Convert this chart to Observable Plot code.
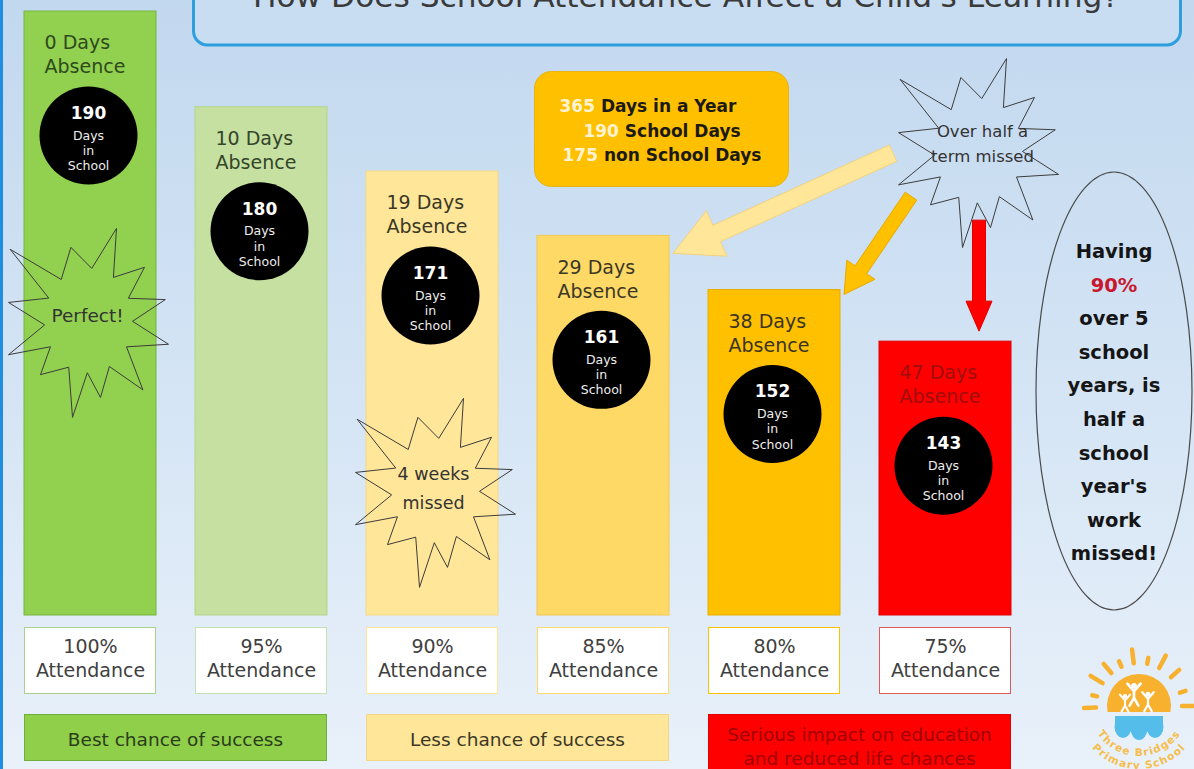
<!DOCTYPE html>
<html><head><meta charset="utf-8">
<script src="https://cdn.jsdelivr.net/npm/d3@7"></script>
<script src="https://cdn.jsdelivr.net/npm/@observablehq/plot@0.6"></script>
<style>
html,body{margin:0;padding:0;overflow:hidden;background:#e6eef8;}
#wrap{position:relative;width:1194px;height:769px;overflow:hidden;background:linear-gradient(to bottom,#c2d8ef 0%,#d2e3f4 45%,#e9f1fa 100%);font-family:"DejaVu Sans",sans-serif;}
#decor,#chart{position:absolute;left:0;top:0;}
#chart svg{background:transparent !important;overflow:visible;}
</style></head>
<body><div id="wrap"><svg id="decor" width="1194" height="769"></svg><div id="chart"></div></div>
<script>
// ---------- data ----------
const titleText = "How Does School Attendance Affect a Child's Learning?";
const attendance = ["100%", "95%", "90%", "85%", "80%", "75%"];
const absenceDays = [0, 10, 19, 29, 38, 47];
const schoolDays = [190, 180, 171, 161, 152, 143];
const daysInSchool = "Days\nin\nSchool";
const yearFacts = [365, 190, 175];
const yearFactLabels = ["Days in a Year", "School Days", "non School Days"];
const outcomeLabels = ["Best chance of success", "Less chance of success", "Serious impact on education\nand reduced life chances"];
const outcomeSpans = [["100%", "95%"], ["90%", "85%"], ["80%", "75%"]];
const burstTexts = ["Perfect!", "4 weeks\nmissed", "Over half a\nterm missed"];
const burstBars = ["100%", "90%", "75%"];
const arrowTargets = ["85%", "80%", "75%"];
const ovalLines = ["Having", "90%", "over 5", "school", "years, is", "half a", "school", "year's", "work", "missed!"];
const logoWords = ["Three Bridges", "Primary School"];
const yMax = 100;

// ---------- styles ----------
const barFill = ["#92d050", "#c5e0a0", "#ffe699", "#ffd966", "#ffc000", "#ff0000"];
const barStroke = ["#74b53c", "#b3d58a", "#f4d88a", "#f0c850", "#e8ad00", "#e00000"];
const barInk = ["#2e4a1c", "#34452a", "#3b3826", "#3b3826", "#3b3420", "#a10d0d"];
const boxStroke = ["#a9d18e", "#c5e0b4", "#ffe699", "#ffd966", "#ffc000", "#e05a5a"];
const outcomeFill = ["#8fcf4a", "#ffe699", "#ff0000"];
const outcomeStroke = ["#6fae3a", "#f3d683", "#e00000"];
const outcomeInk = ["#2b3d1b", "#3b3826", "#a00000"];

const rows = attendance.map((a, i) => ({attendance: a, absence: absenceDays[i], school: schoolDays[i], i}));
const absOf = a => absenceDays[attendance.indexOf(a)];
const burstRows = burstBars.map((b, k) => ({attendance: b, absence: absOf(b), note: burstTexts[k], k}));

// irregular 12-point starburst symbol
const tips = [[-0.98,-0.75],[-0.22,-0.77],[0.35,-0.97],[0.70,-0.56],[0.96,-0.22],[1.0,0.25],[0.68,0.73],[0.15,0.81],[-0.2,1.02],[-0.6,0.57],[-1.0,0.36],[-1.0,-0.19]];
const burstSymbol = {
  draw(ctx, size) {
    const r = Math.sqrt(size / Math.PI), sx = r * 80 / 95, sy = r;
    tips.forEach((t, k) => {
      const n = tips[(k + 1) % tips.length];
      const mx = (t[0] + n[0]) / 2, my = (t[1] + n[1]) / 2, m = Math.hypot(mx, my) || 1;
      const ir = 0.55;
      if (k === 0) ctx.moveTo(t[0] * sx, t[1] * sy); else ctx.lineTo(t[0] * sx, t[1] * sy);
      ctx.lineTo(mx / m * ir * sx, my / m * ir * sy);
    });
    ctx.closePath();
  }
};
const burstLayout = [
  {dx: -2, dy: 309, tdx: -3, tdy: 303, fs: 18.5, lh: 1.3},
  {dx: 3, dy: 319, tdx: 1, tdy: 313.5, fs: 17.5, lh: 29 / 17.5},
  {dx: 33, dy: -191, tdx: 37, tdy: -200.5, fs: 16.5, lh: 25 / 16.5}
];

function blockArrow(x0, y0, x1, y1, sw, hw, hl) {
  const L = Math.hypot(x1 - x0, y1 - y0), ux = (x1 - x0) / L, uy = (y1 - y0) / L, nx = -uy, ny = ux;
  const bx = x1 - ux * hl, by = y1 - uy * hl;
  const p = [[x0 + nx * sw / 2, y0 + ny * sw / 2], [bx + nx * sw / 2, by + ny * sw / 2], [bx + nx * hw / 2, by + ny * hw / 2], [x1, y1],
    [bx - nx * hw / 2, by - ny * hw / 2], [bx - nx * sw / 2, by - ny * sw / 2], [x0 - nx * sw / 2, y0 - ny * sw / 2]];
  return "M" + p.map(q => q.join(",")).join("L") + "Z";
}

function attendanceBoxes(index, scales) {
  const x = scales.x, bw = x.bandwidth(), y0 = scales.y(yMax);
  const g = d3.create("svg:g");
  g.selectAll("rect").data(rows).join("rect")
    .attr("x", d => x(d.attendance) + 0.5).attr("y", y0 + 12.5)
    .attr("width", bw - 1).attr("height", 66)
    .attr("fill", "#ffffff").attr("stroke", d => boxStroke[d.i]);
  return g.node();
}
function outcomeBoxes(index, scales) {
  const x = scales.x, bw = x.bandwidth(), y0 = scales.y(yMax);
  const g = d3.create("svg:g");
  outcomeLabels.forEach((label, k) => {
    const [a, b] = outcomeSpans[k];
    const x0 = x(a), x1 = x(b) + bw;
    const lines = label.split("\n");
    g.append("rect").attr("x", x0 + 0.5).attr("y", y0 + 99.5).attr("width", x1 - x0 - 1)
      .attr("height", lines.length > 1 ? 70 : 46).attr("fill", outcomeFill[k]).attr("stroke", outcomeStroke[k]);
    const t = g.append("text").attr("text-anchor", "middle").attr("font-size", 18.5).attr("fill", outcomeInk[k]);
    lines.forEach((ln, j) => t.append("tspan").attr("x", (x0 + x1) / 2)
      .attr("y", y0 + (lines.length > 1 ? 125.5 + j * 24 : 130.5)).text(ln));
  });
  return g.node();
}
function arrows(index, scales) {
  const x = scales.x, bw = x.bandwidth(), y = scales.y;
  const s = burstLayout[2];
  const cx = x(burstBars[2]) + bw / 2 + s.dx, cy = y(absOf(burstBars[2])) + s.dy;
  const g = d3.create("svg:g");
  const a0 = arrowTargets[0], a1 = arrowTargets[1], a2 = arrowTargets[2];
  const specs = [
    {x0: cx - 85, y0: cy + 3, x1: x(a0) + bw + 4, y1: y(absOf(a0)) + 18, sw: 18, hw: 50, hl: 48, fill: "#ffe699", stroke: "#f1d27e"},
    {x0: cx - 67, y0: cy + 46, x1: x(a1) + bw + 4, y1: y(absOf(a1)) + 5, sw: 14, hw: 34, hl: 30, fill: "#ffc000", stroke: "#e7aa00"},
    {x0: cx + 1, y0: cy + 70, x1: cx + 1, y1: y(absOf(a2)) - 10, sw: 13, hw: 26, hl: 30, fill: "#ff0000", stroke: "#e00000"}
  ];
  specs.forEach(sp => g.append("path").attr("d", blockArrow(sp.x0, sp.y0, sp.x1, sp.y1, sp.sw, sp.hw, sp.hl))
    .attr("fill", sp.fill).attr("stroke", sp.stroke).attr("stroke-width", 1));
  return g.node();
}

const burstMarks = burstLayout.flatMap((s, k) => [
  Plot.dot(burstRows.filter(d => d.k === k), {x: "attendance", y: "absence", r: 95, symbol: burstSymbol, fill: "none", stroke: "#3c3c3c", strokeWidth: 1, dx: s.dx, dy: s.dy}),
  Plot.text(burstRows.filter(d => d.k === k), {x: "attendance", y: "absence", text: "note", dx: s.tdx, dy: s.tdy, fontSize: s.fs, lineHeight: s.lh, fill: "#333333"})
]);

const plot = Plot.plot({
  width: 1194, height: 769,
  marginLeft: 24, marginRight: 183, marginTop: 11, marginBottom: 154,
  x: {type: "band", domain: attendance, paddingInner: 0.2285, paddingOuter: 0, axis: null},
  y: {type: "pow", exponent: 0.8, domain: [0, yMax], reverse: true, axis: null},
  color: {type: "identity"},
  style: {fontFamily: '"DejaVu Sans", sans-serif', background: "transparent", overflow: "visible"},
  marks: [
    Plot.barY(rows, {x: "attendance", y1: "absence", y2: yMax, fill: d => barFill[d.i], stroke: d => barStroke[d.i], strokeWidth: 1}),
    attendanceBoxes,
    Plot.text(rows, {x: "attendance", y: yMax, text: d => `${d.attendance}\nAttendance`, dy: 42, fontSize: 19, lineHeight: 24 / 19, fill: "#404040"}),
    outcomeBoxes,
    Plot.dot(rows, {x: "attendance", y: "absence", r: 49, fill: "#000000", dx: -2, dy: 124}),
    Plot.text(rows, {x: "attendance", y: "absence", text: d => String(d.school), dx: -2, dy: 102, fontSize: 17, fontWeight: "bold", fill: "#ffffff"}),
    Plot.text(rows, {x: "attendance", y: "absence", text: () => daysInSchool, dx: -2, dy: 138.5, fontSize: 12.5, lineHeight: 1.22, fill: "#eeeeee"}),
    Plot.text(rows, {x: "attendance", y: "absence", text: d => `${d.absence} Days\nAbsence`, dx: -46, dy: 42, textAnchor: "start", fontSize: 19, lineHeight: 24 / 19, fill: d => barInk[d.i]}),
    ...burstMarks,
    arrows
  ]
});
document.getElementById("chart").appendChild(plot);

// ---------- decorations ----------
const dec = d3.select("#decor");
dec.append("rect").attr("x", 0).attr("y", 0).attr("width", 3).attr("height", 769).attr("fill", "#1f8de0");
dec.append("rect").attr("x", 193.5).attr("y", -30).attr("width", 987).attr("height", 75).attr("rx", 14)
  .attr("fill", "#c8ddf2").attr("stroke", "#2d9fdc").attr("stroke-width", 3);
dec.append("text").attr("x", 686).attr("y", 7).attr("text-anchor", "middle").attr("font-size", 31)
  .attr("fill", "#3a3a3a").attr("textLength", 866).attr("lengthAdjust", "spacingAndGlyphs").text(titleText);

// year facts box
dec.append("rect").attr("x", 534.5).attr("y", 71.5).attr("width", 254).attr("height", 115).attr("rx", 17)
  .attr("fill", "#ffc000").attr("stroke", "#e9b20e");
const factX = [648, 662, 662], factY = [112, 137, 161];
yearFacts.forEach((v, k) => {
  const t = dec.append("text").attr("x", factX[k]).attr("y", factY[k]).attr("text-anchor", "middle")
    .attr("font-size", 17).attr("font-weight", "bold");
  t.append("tspan").attr("fill", "#fff3d2").text(String(v));
  t.append("tspan").attr("fill", "#1c1a14").text(" " + yearFactLabels[k]);
});

// oval
dec.append("ellipse").attr("cx", 1114).attr("cy", 391).attr("rx", 78).attr("ry", 219)
  .attr("fill", "none").attr("stroke", "#4a4a4a").attr("stroke-width", 1.2);
ovalLines.forEach((ln, k) => dec.append("text").attr("x", 1114).attr("y", 258 + k * 33.6)
  .attr("text-anchor", "middle").attr("font-size", 19.5).attr("font-weight", "bold")
  .attr("fill", k === 1 ? "#c8182f" : "#151515").text(ln));

// logo
const lc = {x: 1139, y: 706};
const orange = "#f7b12f";
const chordY = lc.y + 6, half = Math.sqrt(32 * 32 - 36);
dec.append("path").attr("d", `M${lc.x - half},${chordY} A32,32 0 1 1 ${lc.x + half},${chordY} Z`).attr("fill", orange);
const rayA = [182, 167, 148, 130, 114, 97, 79, 62, 42, 18, 0];
const rayL = [12, 5, 14, 12, 6, 14, 6, 14, 11, 6, 12];
rayA.forEach((a, k) => {
  const r = a * Math.PI / 180, r0 = 43, r1 = 43 + rayL[k];
  dec.append("line").attr("x1", lc.x + r0 * Math.cos(r)).attr("y1", lc.y - r0 * Math.sin(r))
    .attr("x2", lc.x + r1 * Math.cos(r)).attr("y2", lc.y - r1 * Math.sin(r))
    .attr("stroke", orange).attr("stroke-width", 4.5).attr("stroke-linecap", "round");
});
[[-14, -8, 0.85], [-5, -18, 1.1], [9, -10, 0.95]].forEach(([dx, dy, s]) => {
  const cx = lc.x + dx, cy = lc.y + dy;
  dec.append("circle").attr("cx", cx).attr("cy", cy - 2 * s).attr("r", 2.6 * s).attr("fill", "#fff");
  dec.append("path").attr("d", `M${cx - 6 * s},${cy - 4 * s} L${cx},${cy + 3 * s} L${cx + 6 * s},${cy - 4 * s} M${cx},${cy + 2 * s} L${cx},${cy + 9 * s} M${cx - 4 * s},${cy + 16 * s} L${cx},${cy + 9 * s} L${cx + 4 * s},${cy + 16 * s}`)
    .attr("stroke", "#fff").attr("stroke-width", 2.4 * s).attr("fill", "none").attr("stroke-linecap", "round");
});
const blue = "#55bde9";
dec.append("rect").attr("x", lc.x - 24).attr("y", lc.y + 10).attr("width", 48).attr("height", 10).attr("fill", blue);
[[-16, 21, 8.5, 11], [0, 22, 8.5, 12], [16, 21, 8.5, 11]].forEach(([dx, dy, rx, ry]) =>
  dec.append("ellipse").attr("cx", lc.x + dx).attr("cy", lc.y + dy).attr("rx", rx).attr("ry", ry).attr("fill", blue));
const defs = dec.append("defs");
defs.append("path").attr("id", "arc1").attr("d", `M${lc.x - 50},${lc.y} A50,50 0 0 0 ${lc.x + 50},${lc.y}`);
defs.append("path").attr("id", "arc2").attr("d", `M${lc.x - 63},${lc.y} A63,63 0 0 0 ${lc.x + 63},${lc.y}`);
logoWords.forEach((w, k) => dec.append("text").attr("font-size", 10.5).attr("font-weight", "bold").attr("fill", "#f6bd4a")
  .attr("letter-spacing", 1.2)
  .append("textPath").attr("href", k === 0 ? "#arc1" : "#arc2").attr("startOffset", "50%").attr("text-anchor", "middle").text(w));
</script></body></html>
